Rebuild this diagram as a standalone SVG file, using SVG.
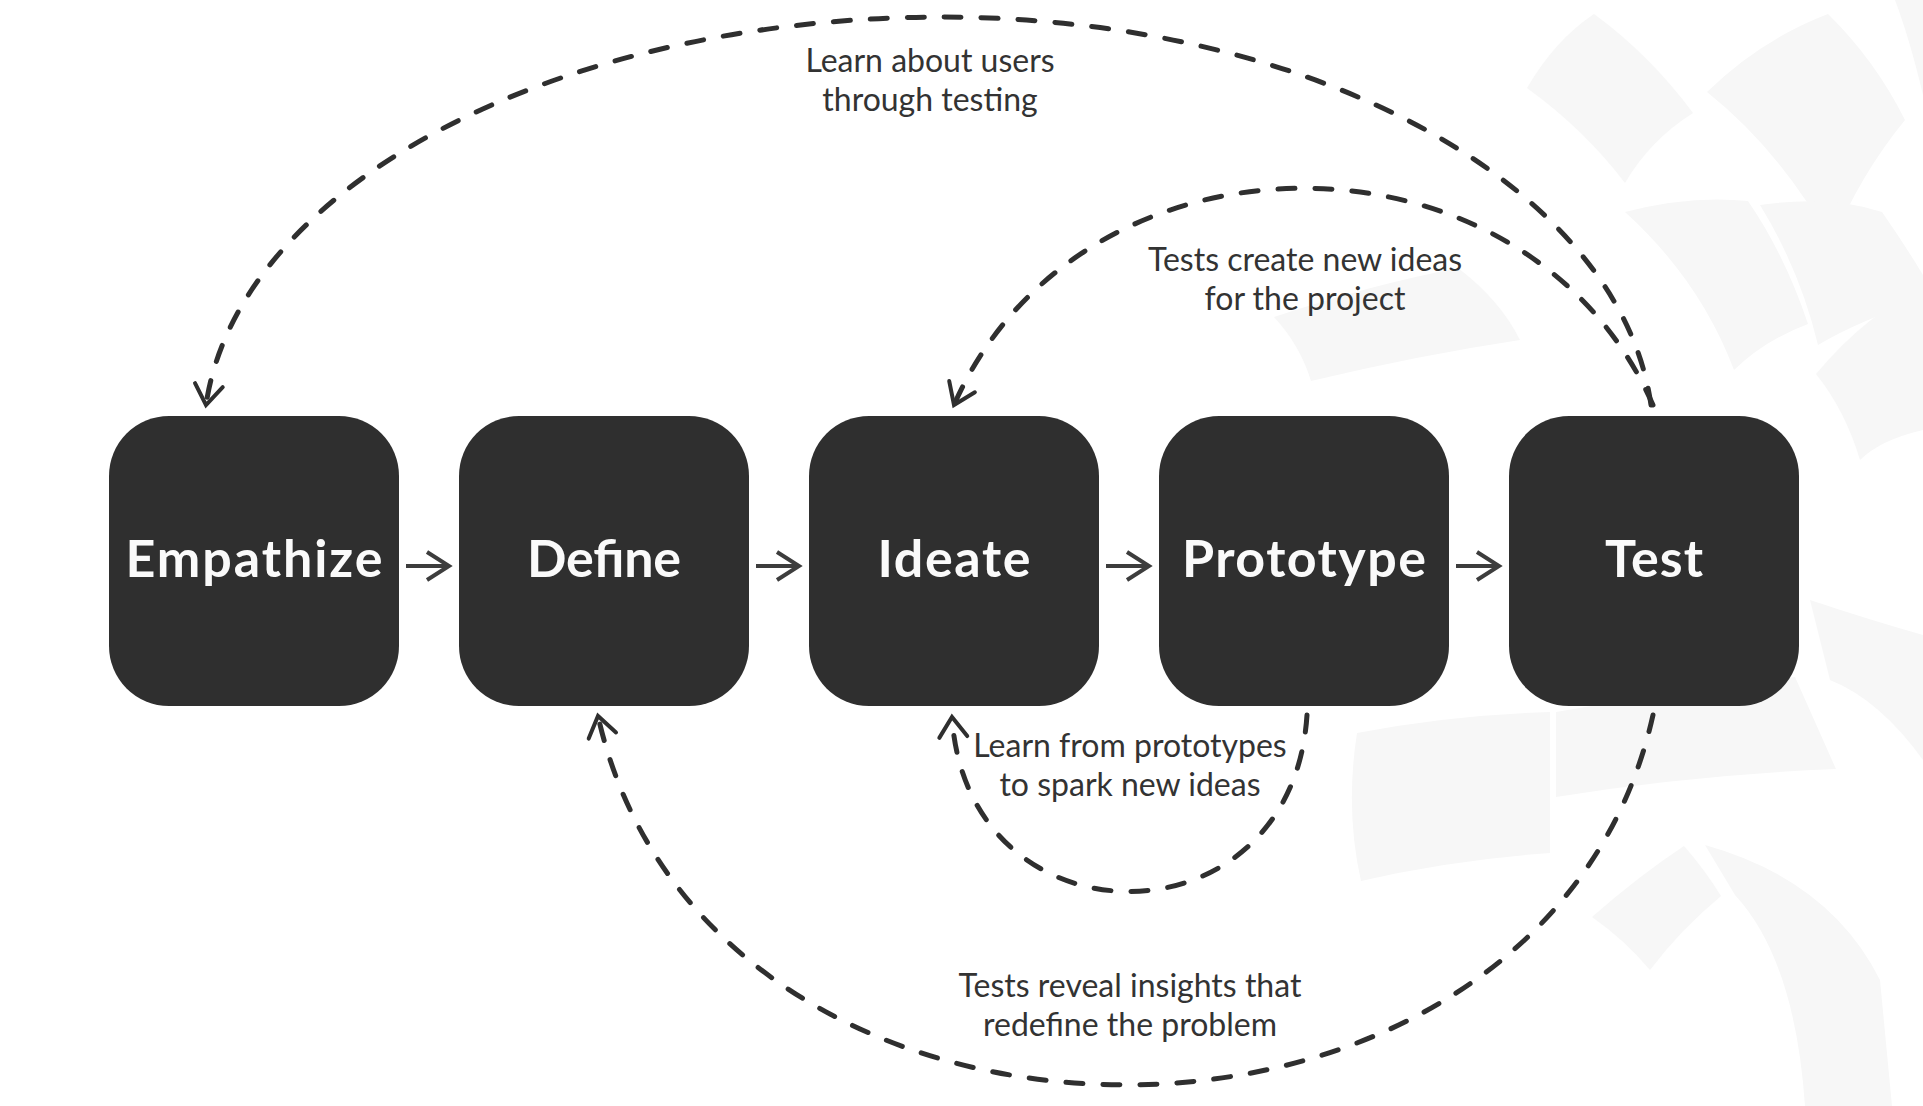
<svg xmlns="http://www.w3.org/2000/svg" width="1923" height="1106" viewBox="0 0 1923 1106">
<defs>
<style>
.bg{fill:#ffffff}
.wm{fill:#f7f7f7}
.box{fill:#2f2f2f}
.title{font-family:Lato,"Open Sans","Liberation Sans",sans-serif;font-weight:700;font-size:52px;fill:#fafafa;text-anchor:middle}
.lbl{font-family:Lato,"Open Sans","Liberation Sans",sans-serif;font-weight:400;font-size:32px;fill:#333333;text-anchor:middle}
.dash{fill:none;stroke:#2f2f2f;stroke-width:5;stroke-dasharray:17 20;stroke-linecap:round}
.step{fill:none;stroke:#3d3d3d;stroke-width:4}
</style>
<marker id="headDash" viewBox="-26 -18 30 36" markerWidth="30" markerHeight="36" refX="0" refY="0" orient="auto" markerUnits="userSpaceOnUse">
<path d="M-20,-14 L0,0 L-20,14" fill="none" stroke="#2f2f2f" stroke-width="4" stroke-linecap="round"/>
</marker>
<marker id="headStep" viewBox="-26 -18 30 36" markerWidth="30" markerHeight="36" refX="0" refY="0" orient="auto" markerUnits="userSpaceOnUse">
<path d="M-22,-14 L0,0 L-22,14" fill="none" stroke="#3d3d3d" stroke-width="4"/>
</marker>
</defs>
<rect class="bg" x="0" y="0" width="1923" height="1106"/>
<g id="watermark">
<path class="wm" d="M1527,88 Q1555,40 1594,14 Q1650,55 1693,113 Q1650,140 1625,183 Q1585,130 1527,88 Z"/>
<path class="wm" d="M1707,92 Q1760,40 1828,14 Q1875,60 1905,120 Q1860,175 1832,243 Q1780,150 1707,92 Z"/>
<path class="wm" d="M1895,0 L1923,0 L1923,95 Q1910,40 1895,0 Z"/>
<path class="wm" d="M1625,212 Q1690,195 1748,201 Q1785,255 1808,324 Q1765,340 1734,370 Q1700,280 1625,212 Z"/>
<path class="wm" d="M1760,205 Q1830,195 1882,212 Q1905,245 1923,275 L1923,300 Q1860,320 1818,345 Q1800,270 1760,205 Z"/>
<path class="wm" d="M1816,374 Q1870,310 1923,290 L1923,430 Q1880,440 1860,460 Q1845,410 1816,374 Z"/>
<path class="wm" d="M1274,317 Q1370,285 1458,268 Q1500,300 1520,340 Q1420,355 1311,381 Q1300,345 1274,317 Z"/>
<path class="wm" d="M1357,733 Q1450,715 1550,712 L1550,853 Q1450,860 1361,881 Q1345,810 1357,733 Z"/>
<path class="wm" d="M1556,712 Q1680,690 1795,677 L1836,769 Q1690,775 1556,797 Z"/>
<path class="wm" d="M1810,600 Q1870,620 1923,635 L1923,760 Q1880,700 1830,680 Z"/>
<path class="wm" d="M1592,917 Q1640,875 1684,846 Q1705,870 1721,896 Q1680,930 1650,970 Q1625,940 1592,917 Z"/>
<path class="wm" d="M1705,845 Q1830,880 1880,980 L1892,1106 L1805,1106 Q1795,960 1735,895 Z"/>
</g>
<g id="connectors">
<path class="dash" d="M1651,405 A712,423 0 0 0 941,17 A740,423 0 0 0 206,405" marker-end="url(#headDash)"/>
<path class="dash" d="M1653,405 C1526,116 1081,116 954,405" marker-end="url(#headDash)"/>
<path class="dash" d="M1307,715 C1292,950 967,950 952,717" marker-end="url(#headDash)"/>
<path class="dash" d="M1653,715 C1543,1208 708,1208 598,716" marker-end="url(#headDash)"/>
<path class="step" d="M406,566 H449" marker-end="url(#headStep)"/>
<path class="step" d="M756,566 H799" marker-end="url(#headStep)"/>
<path class="step" d="M1106,566 H1149" marker-end="url(#headStep)"/>
<path class="step" d="M1456,566 H1499" marker-end="url(#headStep)"/>
</g>
<g id="labels">
<text class="lbl" x="930" y="72">Learn about users</text>
<text class="lbl" x="930" y="111">through testing</text>
<text class="lbl" x="1305" y="271">Tests create new ideas</text>
<text class="lbl" x="1305" y="310">for the project</text>
<text class="lbl" x="1130" y="757">Learn from prototypes</text>
<text class="lbl" x="1130" y="796">to spark new ideas</text>
<text class="lbl" x="1130" y="997">Tests reveal insights that</text>
<text class="lbl" x="1130" y="1036">redefine the problem</text>
</g>
<g id="empathize">
<rect class="box" x="109" y="416" width="290" height="290" rx="60"/>
<text class="title" x="254" y="577" textLength="257">Empathize</text>
</g>
<g id="define">
<rect class="box" x="459" y="416" width="290" height="290" rx="60"/>
<text class="title" x="604" y="577" textLength="154">Define</text>
</g>
<g id="ideate">
<rect class="box" x="809" y="416" width="290" height="290" rx="60"/>
<text class="title" x="954" y="577" textLength="153">Ideate</text>
</g>
<g id="prototype">
<rect class="box" x="1159" y="416" width="290" height="290" rx="60"/>
<text class="title" x="1304" y="577" textLength="244">Prototype</text>
</g>
<g id="test">
<rect class="box" x="1509" y="416" width="290" height="290" rx="60"/>
<text class="title" x="1654" y="577" textLength="98">Test</text>
</g>
</svg>
